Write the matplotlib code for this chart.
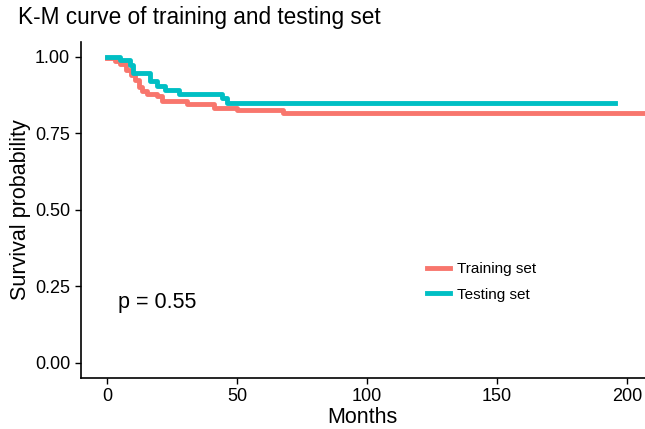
import matplotlib.pyplot as plt

plt.rcParams['font.family'] = ['Liberation Sans', 'DejaVu Sans']

# Kaplan-Meier step values
train_time = [0, 3, 5, 7, 9, 10.8, 12, 13.3, 15.3, 19, 21, 30.6, 41, 50, 67.7, 207]
train_surv = [0.995, 0.988, 0.976, 0.958, 0.941, 0.925, 0.903, 0.89, 0.88, 0.871, 0.856,
              0.847, 0.833, 0.825, 0.816, 0.816]
test_time = [0, 5, 8.8, 10, 16.5, 19, 22.3, 27.4, 44, 46, 195.5]
test_surv = [1.0, 0.99, 0.974, 0.947, 0.92, 0.906, 0.892, 0.88, 0.865, 0.848, 0.848]

x_ticks = [0, 50, 100, 150, 200]
y_ticks = [0.0, 0.25, 0.5, 0.75, 1.0]
y_labels = ['0.00', '0.25', '0.50', '0.75', '1.00']

fig = plt.figure(figsize=(6.45, 4.29), dpi=100)
ax = fig.add_axes([0.125, 0.119, 0.875, 0.784])

ax.step(train_time, train_surv, where='post', color='#F8766D', lw=3.5, label='Training set')
ax.step(test_time, test_surv, where='post', color='#00BFC4', lw=3.5, label='Testing set')

ax.set_xlim(-10.3, 207)
ax.set_ylim(-0.05, 1.05)
ax.set_xticks(x_ticks)
ax.set_yticks(y_ticks)
ax.set_yticklabels(y_labels)
ax.tick_params(labelsize=13, length=4, width=1, colors='black')

for s in ['top', 'right']:
    ax.spines[s].set_visible(False)
for s in ['left', 'bottom']:
    ax.spines[s].set_linewidth(1.2)

ax.set_xlabel('Months', fontsize=15.5, labelpad=1)
ax.set_ylabel('Survival probability', fontsize=15.5, labelpad=3)
fig.text(0.028, 0.945, 'K-M curve of training and testing set', fontsize=16.3)

ax.text(4.2, 0.197, 'p = 0.55', fontsize=15.5, va='center', ha='left')

ax.legend(loc='center left', bbox_to_anchor=(0.59, 0.285), frameon=False, fontsize=11,
          handlelength=1.45, handletextpad=0.5, labelspacing=0.75)

fig.savefig('out.png', dpi=100)
